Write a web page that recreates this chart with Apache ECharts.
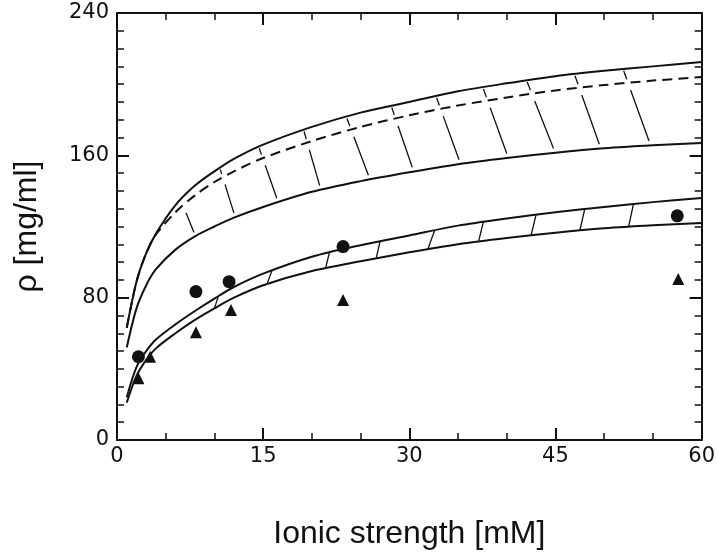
<!DOCTYPE html>
<html>
<head>
<meta charset="utf-8">
<script src="https://cdn.jsdelivr.net/npm/echarts@6/dist/echarts.min.js"></script>
<style>
  html, body { margin: 0; padding: 0; background: #fff; }
  #chart { width: 718px; height: 557px; }
</style>
</head>
<body>
<div id="chart"></div>
<script>
// ---- data ----
const xs = [1, 2, 3, 4, 6, 8, 10, 12, 15, 20, 25, 30, 35, 40, 45, 50, 55, 60];
const upperSolid  = [63, 89, 105, 116, 132, 143, 151, 158, 166, 176, 184, 190, 196, 200.5, 204.5, 207.5, 210, 212.5];
const upperDashed = [63, 89, 105, 115.5, 128, 137.5, 145, 151, 158.5, 168, 176, 182.5, 188, 192.5, 196.5, 199.5, 202, 204];
const middleSolid = [52, 74, 87, 96, 107, 114.5, 120, 125, 131, 139.5, 145.5, 150.5, 155, 158.5, 161.5, 164, 165.7, 167];
const lowerUpper  = [24, 41, 50, 56.5, 65, 72.5, 79.5, 86, 93.5, 103, 109.5, 115, 120.5, 124.5, 128, 131, 133.7, 136];
const lowerLower  = [21, 36, 45, 51.5, 60, 67.5, 74, 80, 87, 95, 100.5, 105.5, 110, 113.5, 116.5, 119, 120.7, 122];

const circlesX = [2.2, 8.1, 11.5, 23.2, 57.5];
const circlesY = [46.8, 83.4, 89, 108.7, 126];
const trianglesX = [2.2, 3.4, 8.1, 11.7, 23.2, 57.6];
const trianglesY = [34.7, 46.8, 60.5, 73, 78.7, 90.5];

// hatch strokes: [x on upper curve, x on lower curve]
const upperHatch = [[6.6, 7.9], [10.6, 12.0], [14.6, 16.4], [19.2, 20.8], [23.6, 25.8], [28.2, 30.3], [32.8, 35.1], [37.6, 40.0], [42.1, 44.8], [47.0, 49.5], [52.0, 54.6]];
const lowerHatch = [[10.0, 10.4], [15.4, 15.9], [21.4, 21.8], [26.6, 27.0], [31.9, 32.6], [37.1, 37.6], [42.5, 43.0], [47.5, 48.0], [52.5, 53.0]];

const xTicks = [0, 15, 30, 45, 60];
const yTicks = [0, 80, 160, 240];

// ---- helpers ----
function pairs(ys) { return xs.map((x, i) => [x, ys[i]]); }
function interp(ys, x) {
  for (let i = 0; i < xs.length - 1; i++) {
    if (x >= xs[i] && x <= xs[i + 1]) {
      const t = (x - xs[i]) / (xs[i + 1] - xs[i]);
      return ys[i] + t * (ys[i + 1] - ys[i]);
    }
  }
  return ys[ys.length - 1];
}

const hatchLines = [];
upperHatch.forEach(([xt, xb]) => {
  const yTop = interp(upperSolid, xt) - 1;
  const yEnd = interp(middleSolid, xb) + 2.5;
  const xAt = y => xt + (yTop - y) / (yTop - yEnd) * (xb - xt);
  let yc = interp(upperDashed, xt);
  for (let k = 0; k < 5; k++) yc = interp(upperDashed, xAt(yc));
  const yTickEnd = yc + 2;
  const yMainStart = yc - 4;
  if (yTop - yTickEnd > 0.8) {
    hatchLines.push({ coords: [[xAt(yTop), yTop], [xAt(yTickEnd), yTickEnd]] });
  }
  hatchLines.push({ coords: [[xAt(yMainStart), yMainStart], [xb, yEnd]] });
});
lowerHatch.forEach(([xb, xt]) => {
  hatchLines.push({ coords: [[xb, interp(lowerLower, xb)], [xt, interp(lowerUpper, xt)]] });
});

const INK = '#111';
const TICK_FONT = 'DejaVu Sans';
const NAME_FONT = 'Liberation Sans';

function lineSeries(ys, dashed) {
  return {
    type: 'line', data: pairs(ys), smooth: 0.3, showSymbol: false, symbol: 'none',
    silent: true, z: 3,
    lineStyle: { color: INK, width: 2, type: dashed ? [10, 6] : 'solid' }
  };
}

function axisCommon() {
  return {
    axisLine: { show: true, onZero: false, lineStyle: { color: INK, width: 2 } },
    axisTick: { show: true, inside: true, length: 12, lineStyle: { color: INK, width: 2 } },
    splitLine: { show: false }
  };
}

const chart = echarts.init(document.getElementById('chart'), null, { renderer: 'canvas' });
chart.setOption({
  backgroundColor: '#fff',
  animation: false,
  grid: { left: 117, right: 12, top: 13, bottom: 117, containLabel: false },
  xAxis: [
    Object.assign({
      type: 'value', position: 'bottom', min: xTicks[0], max: xTicks[xTicks.length - 1], interval: 15,
      minorTick: { show: true, splitNumber: 3, length: 7, lineStyle: { color: INK, width: 1.5 } },
      axisLabel: { color: INK, fontFamily: TICK_FONT, fontSize: 21, margin: 6 },
      name: 'Ionic strength [mM]', nameLocation: 'middle', nameGap: 78,
      nameTextStyle: { color: INK, fontFamily: NAME_FONT, fontSize: 32 }
    }, axisCommon()),
    Object.assign({
      type: 'value', position: 'top', min: xTicks[0], max: xTicks[xTicks.length - 1], interval: 15,
      minorTick: { show: true, splitNumber: 3, length: 7, lineStyle: { color: INK, width: 1.5 } },
      axisLabel: { show: false }
    }, axisCommon())
  ],
  yAxis: [
    Object.assign({
      type: 'value', position: 'left', min: yTicks[0], max: yTicks[yTicks.length - 1], interval: 80,
      minorTick: { show: true, splitNumber: 8, length: 7, lineStyle: { color: INK, width: 1.5 } },
      axisLabel: { color: INK, fontFamily: TICK_FONT, fontSize: 21, margin: 8 },
      name: 'ρ [mg/ml]', nameLocation: 'middle', nameGap: 74,
      nameTextStyle: { color: INK, fontFamily: NAME_FONT, fontSize: 32 }
    }, axisCommon()),
    Object.assign({
      type: 'value', position: 'right', min: yTicks[0], max: yTicks[yTicks.length - 1], interval: 80,
      minorTick: { show: true, splitNumber: 8, length: 7, lineStyle: { color: INK, width: 1.5 } },
      axisLabel: { show: false }
    }, axisCommon())
  ],
  series: [
    lineSeries(upperSolid, false),
    lineSeries(upperDashed, true),
    lineSeries(middleSolid, false),
    lineSeries(lowerUpper, false),
    lineSeries(lowerLower, false),
    {
      type: 'lines', coordinateSystem: 'cartesian2d', polyline: false, silent: true, z: 2,
      lineStyle: { color: INK, width: 1.3, opacity: 1 },
      data: hatchLines
    },
    {
      type: 'scatter', symbol: 'circle', symbolSize: 13, silent: true, z: 4,
      itemStyle: { color: INK, opacity: 1 },
      data: circlesX.map((x, i) => [x, circlesY[i]])
    },
    {
      type: 'scatter', symbol: 'triangle', symbolSize: 12, silent: true, z: 4,
      itemStyle: { color: INK, opacity: 1 },
      data: trianglesX.map((x, i) => [x, trianglesY[i]])
    }
  ]
});
</script>
</body>
</html>
